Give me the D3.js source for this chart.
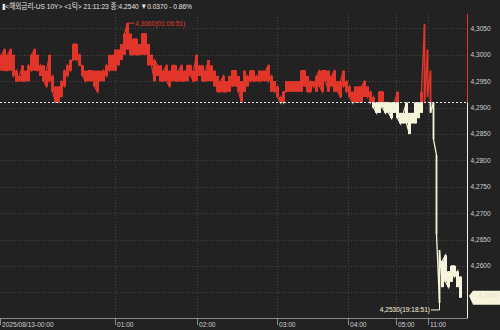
<!DOCTYPE html>
<html>
<head>
<meta charset="utf-8">
<script src="https://cdn.jsdelivr.net/npm/d3@7"></script>
<style>
  body { margin: 0; background: #222222; }
  svg { display: block; }
</style>
</head>
<body>
<script>
const W = 500, H = 330

// per-bar high / low yields
const highs = [
  4.300, 4.301, 4.300, 4.301, 4.300, 4.297, 4.296, 4.298, 4.297, 4.298,
  4.300, 4.301, 4.300, 4.298, 4.298, 4.297, 4.300, 4.296, 4.294, 4.294,
  4.295, 4.297, 4.298, 4.299, 4.302, 4.302, 4.300, 4.298, 4.297, 4.297,
  4.297, 4.297, 4.297, 4.297, 4.297, 4.298, 4.300, 4.300, 4.301, 4.301,
  4.302, 4.304, 4.306, 4.304, 4.303, 4.303, 4.302, 4.304, 4.304, 4.302,
  4.300, 4.299, 4.298, 4.298, 4.297, 4.298, 4.297, 4.298, 4.298, 4.297,
  4.298, 4.297, 4.298, 4.298, 4.297, 4.300, 4.298, 4.298, 4.297, 4.299,
  4.298, 4.297, 4.296, 4.295, 4.296, 4.295, 4.296, 4.297, 4.297, 4.296,
  4.295, 4.297, 4.296, 4.297, 4.297, 4.296, 4.297, 4.297, 4.297, 4.298,
  4.296, 4.295, 4.294, 4.292, 4.293, 4.295, 4.295, 4.295, 4.295, 4.295,
  4.297, 4.297, 4.296, 4.295, 4.295, 4.296, 4.297, 4.297, 4.297, 4.297,
  4.296, 4.297, 4.295, 4.295, 4.297, 4.295, 4.294, 4.293, 4.294, 4.294,
  4.294, 4.295, 4.294, 4.293, 4.292, 4.291, 4.293, 4.293, 4.291, 4.291,
  4.291, 4.291, 4.293, 4.289, 4.289, 4.291, 4.289, 4.289, 4.291, 4.291,
  4.293, 4.3058, 4.301, 4.297, 4.291, 4.281, 4.263, 4.261, 4.262, 4.259,
  4.260, 4.260, 4.259, 4.258
]
const lows = [
  4.297, 4.297, 4.297, 4.297, 4.296, 4.295, 4.295, 4.295, 4.295, 4.295,
  4.297, 4.297, 4.297, 4.296, 4.295, 4.294, 4.295, 4.293, 4.291, 4.291,
  4.292, 4.294, 4.296, 4.297, 4.299, 4.299, 4.298, 4.296, 4.295, 4.295,
  4.295, 4.294, 4.293, 4.295, 4.295, 4.296, 4.297, 4.297, 4.297, 4.298,
  4.299, 4.300, 4.301, 4.300, 4.300, 4.300, 4.300, 4.300, 4.300, 4.298,
  4.298, 4.295, 4.296, 4.295, 4.295, 4.295, 4.294, 4.295, 4.295, 4.295,
  4.295, 4.295, 4.295, 4.296, 4.295, 4.295, 4.296, 4.295, 4.295, 4.295,
  4.295, 4.294, 4.293, 4.293, 4.293, 4.293, 4.293, 4.294, 4.294, 4.293,
  4.291, 4.293, 4.294, 4.295, 4.295, 4.295, 4.295, 4.295, 4.295, 4.295,
  4.293, 4.293, 4.292, 4.291, 4.291, 4.293, 4.293, 4.293, 4.293, 4.293,
  4.293, 4.294, 4.293, 4.293, 4.294, 4.293, 4.294, 4.293, 4.295, 4.293,
  4.294, 4.293, 4.293, 4.292, 4.294, 4.293, 4.292, 4.291, 4.291, 4.291,
  4.291, 4.292, 4.292, 4.291, 4.290, 4.289, 4.289, 4.290, 4.289, 4.289,
  4.288, 4.289, 4.288, 4.287, 4.287, 4.287, 4.285, 4.287, 4.287, 4.288,
  4.289, 4.291, 4.292, 4.289, 4.284, 4.266, 4.253, 4.256, 4.257, 4.256,
  4.257, 4.258, 4.256, 4.254
]

const prevClose = 4.2910
const lastPrice = 4.2540
const maxTime = '01:06:51'
const minTime = '19:18:51'

const yTicks = [4.3050, 4.3000, 4.2950, 4.2900, 4.2850, 4.2800, 4.2750, 4.2700, 4.2650, 4.2600, 4.2550]
const xTickIdx = [0, 38.4, 65.8, 92.2, 116.1, 131.9, 142.8]
const xTickLabels = ['2025/08/13-00:00', '01:00', '02:00', '03:00', '04:00', '05:00', '11:00']

const header = '▮<해외금리-US 10Y> <1틱> 21:11:23 종:4.2540  ▼0.0370  - 0.86%'

const RED = '#e2362b'
const CREAM = '#f7f4dc'
const TEXT = '#cfcfcf'
const FONT = '"Liberation Sans Narrow", "Liberation Sans", "Noto Sans CJK KR", sans-serif'
const FS = '6.6px'

const plotRight = 467.5, plotTop = 14, plotBottom = 318

const x = d3.scaleLinear().domain([0, highs.length]).range([0, 462])
const y = d3.scaleLinear().domain([4.26, 4.305]).range([266, 28.4])

const fmt = v => v.toFixed(4).replace('.', ',')

const svg = d3.select('body').append('svg')
  .attr('width', W).attr('height', H)

svg.append('rect').attr('width', W).attr('height', H).attr('fill', '#222222')

const defs = svg.append('defs')
defs.append('clipPath').attr('id', 'up')
  .append('rect').attr('x', 0).attr('y', 0).attr('width', W).attr('height', y(prevClose))
defs.append('clipPath').attr('id', 'down')
  .append('rect').attr('x', 0).attr('y', y(prevClose)).attr('width', W).attr('height', H)

// grid
svg.append('g').selectAll('line')
  .data(yTicks)
  .join('line')
  .attr('x1', 0).attr('x2', plotRight)
  .attr('y1', d => Math.round(y(d)) + 0.5).attr('y2', d => Math.round(y(d)) + 0.5)
  .attr('stroke', '#444').attr('stroke-dasharray', '1,2')

svg.append('g').selectAll('line')
  .data(xTickIdx.slice(1))
  .join('line')
  .attr('x1', d => Math.round(x(d)) + 0.5).attr('x2', d => Math.round(x(d)) + 0.5)
  .attr('y1', plotTop).attr('y2', plotBottom)
  .attr('stroke', '#444').attr('stroke-dasharray', '1,2')

// price bars, red above previous close, cream below
const bars = highs.map((h, i) => ({ i, h, l: lows[i] }))
const barW = d => (d.h - d.l > 0.006 ? 1.6 : x(d.i + 1) - x(d.i))
const mid = i => (x(i) + x(i + 1)) / 2

// tick path: runs through each bar from one extreme to the other
const pts = []
bars.forEach((d, k) => {
  const next = bars[k + 1]
  const goingDown = next ? (next.h + next.l) < (d.h + d.l) : true
  const a = goingDown ? d.h : d.l
  const b = goingDown ? d.l : d.h
  pts.push([mid(d.i), y(a)], [mid(d.i), y(b)])
})
const tickLine = d3.line()(pts)

;[['up', RED], ['down', CREAM]].forEach(([clip, color]) => {
  const g = svg.append('g').attr('clip-path', `url(#${clip})`)
  g.selectAll('rect')
    .data(bars)
    .join('rect')
    .attr('x', d => x(d.i) + (x(d.i + 1) - x(d.i) - barW(d)) / 2)
    .attr('width', barW)
    .attr('y', d => y(d.h))
    .attr('height', d => Math.max(1, y(d.l) - y(d.h)))
    .attr('fill', color)
  g.append('path')
    .attr('d', tickLine)
    .attr('fill', 'none')
    .attr('stroke', color)
    .attr('stroke-width', 1.3)
})

// previous close
svg.append('line')
  .attr('x1', 0).attr('x2', plotRight)
  .attr('y1', Math.round(y(prevClose)) + 0.5).attr('y2', Math.round(y(prevClose)) + 0.5)
  .attr('stroke', '#e8e8e8').attr('stroke-dasharray', '2,2')

// right edge line
svg.append('line')
  .attr('x1', plotRight).attr('x2', plotRight)
  .attr('y1', plotTop).attr('y2', y(prevClose))
  .attr('stroke', RED)
svg.append('line')
  .attr('x1', plotRight).attr('x2', plotRight)
  .attr('y1', y(prevClose)).attr('y2', plotBottom)
  .attr('stroke', CREAM)

// bottom axis
svg.append('line')
  .attr('x1', 0).attr('x2', plotRight)
  .attr('y1', plotBottom + 0.5).attr('y2', plotBottom + 0.5)
  .attr('stroke', '#8a8a8a')

const xt = svg.append('g').selectAll('g')
  .data(xTickIdx)
  .join('g')
  .attr('transform', d => `translate(${Math.round(x(d)) + 0.5},0)`)
xt.append('line')
  .attr('y1', plotBottom).attr('y2', plotBottom + 7)
  .attr('stroke', '#8a8a8a')
xt.append('text')
  .attr('x', 1.5).attr('y', 326.5)
  .attr('fill', TEXT)
  .style('font', `${FS} ${FONT}`)
  .text((d, i) => xTickLabels[i])

// right axis labels
svg.append('g').selectAll('text')
  .data(yTicks.filter(d => d > 4.256))
  .join('text')
  .attr('x', 470.5).attr('y', d => y(d) + 2.4)
  .attr('fill', TEXT)
  .style('font', `${FS} ${FONT}`)
  .text(fmt)

// high / low annotations
const iMax = d3.maxIndex(highs)
const iMin = d3.minIndex(lows)
const maxY = y(highs[iMax])
const minY = y(lows[iMin])

svg.append('path')
  .attr('d', `M${mid(iMax)},${maxY + 1} V${maxY} H${x(iMax) + 8}`)
  .attr('fill', 'none').attr('stroke', RED)
svg.append('text')
  .attr('x', x(iMax) + 9).attr('y', maxY + 2.4)
  .attr('fill', RED)
  .style('font', `${FS} ${FONT}`)
  .text(`${fmt(highs[iMax])}(${maxTime})`)

svg.append('path')
  .attr('d', `M${mid(iMin)},${minY} V${minY + 7} H${x(iMin) - 7}`)
  .attr('fill', 'none').attr('stroke', CREAM)
svg.append('text')
  .attr('x', x(iMin) - 8).attr('y', minY + 9.4)
  .attr('text-anchor', 'end')
  .attr('fill', CREAM)
  .style('font', `${FS} ${FONT}`)
  .text(`${fmt(lows[iMin])}(${minTime})`)

// current price tag
const ly = y(lastPrice)
svg.append('path')
  .attr('d', `M469,${ly - 2} L473,${ly - 7} H500 V${ly + 7} H473 Z`)
  .attr('fill', CREAM)
svg.append('text')
  .attr('x', 478).attr('y', ly + 0.4)
  .attr('fill', '#e6e2c6')
  .style('font', `${FS} ${FONT}`)
  .text(fmt(lastPrice))

// header
svg.append('text')
  .attr('x', 2).attr('y', 9)
  .attr('fill', '#e6e6e6')
  .attr('textLength', 190)
  .attr('lengthAdjust', 'spacingAndGlyphs')
  .style('font', `8px ${FONT}`)
  .text(header)
</script>
</body>
</html>
